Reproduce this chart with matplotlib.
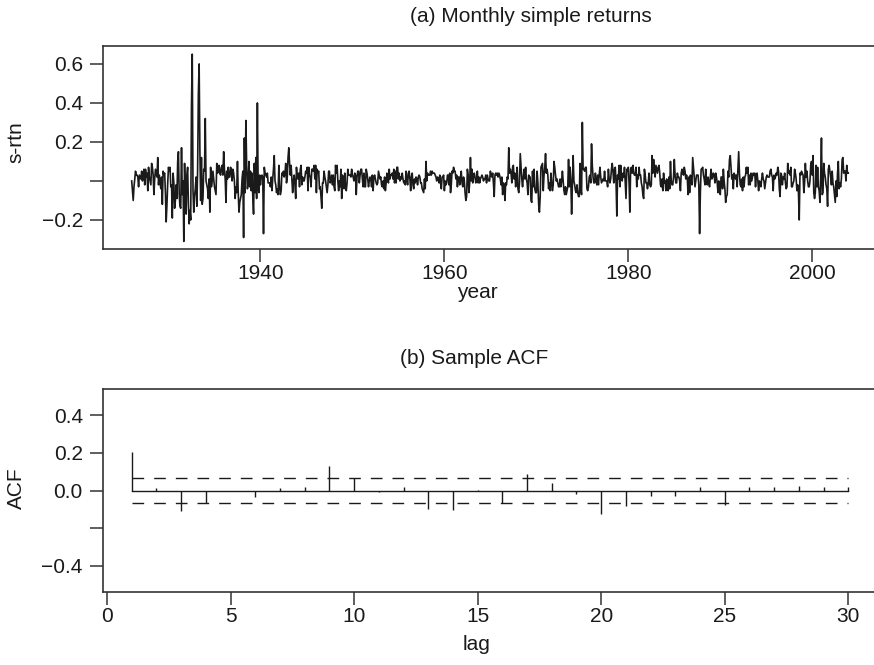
import numpy as np
import matplotlib
matplotlib.use("Agg")
import matplotlib.pyplot as plt

# monthly simple returns, Jan 1926 .. Dec 2003 (one row per year)
rtn = [
    0.00, -0.05, -0.10, -0.03, 0.01, 0.05, 0.03, 0.03, 0.02, -0.03, 0.03, 0.02,   # 1926
    0.01, 0.05, 0.00, 0.02, 0.06, -0.02, 0.06, 0.02, 0.04, -0.05, 0.07, 0.02,     # 1927
    0.00, -0.02, 0.09, 0.07, 0.03, -0.07, 0.01, 0.06, 0.04, 0.02, 0.12, -0.02,    # 1928
    0.03, -0.01, -0.04, 0.02, -0.12, 0.05, 0.03, 0.04, -0.06, -0.21, -0.12, -0.01,  # 1929
    0.07, 0.05, 0.07, -0.03, -0.02, -0.19, 0.04, -0.01, -0.14, -0.10, -0.02, -0.09,  # 1930
    0.10, 0.15, -0.07, -0.13, -0.14, 0.17, -0.07, 0.00, -0.31, 0.09, -0.10, -0.17,  # 1931
    0.03, 0.07, -0.12, -0.22, -0.15, -0.20, 0.38, 0.65, -0.05, -0.16, -0.08, -0.04,  # 1932
    0.02, -0.13, 0.05, 0.45, 0.60, 0.15, -0.10, 0.12, -0.12, -0.09, 0.06, 0.05,   # 1933
    0.32, 0.00, -0.02, -0.04, -0.09, 0.01, -0.16, 0.07, -0.03, 0.00, 0.05, 0.01,  # 1934
    -0.03, -0.05, -0.07, 0.09, 0.04, 0.05, 0.08, 0.04, 0.03, 0.07, 0.08, 0.03,    # 1935
    0.15, 0.06, 0.01, -0.11, 0.05, 0.01, 0.07, 0.02, 0.02, 0.07, 0.06, 0.00,      # 1936
    0.06, 0.04, 0.00, -0.09, -0.03, -0.06, 0.10, -0.06, -0.16, -0.11, -0.09, -0.07,  # 1937
    0.01, 0.05, -0.29, 0.22, -0.06, 0.31, 0.08, -0.04, -0.01, 0.10, -0.03, 0.05,  # 1938
    -0.05, 0.04, -0.08, -0.17, 0.09, -0.06, 0.12, -0.09, 0.40, -0.03, -0.06, 0.03,  # 1939
    -0.02, 0.02, 0.03, 0.02, -0.27, 0.07, 0.04, 0.03, 0.02, 0.04, -0.01, -0.01,   # 1940
    -0.01, -0.03, 0.02, -0.05, 0.01, 0.06, 0.13, 0.00, -0.02, -0.06, -0.04, -0.07,  # 1941
    0.08, -0.03, -0.07, -0.05, 0.04, 0.03, 0.05, 0.02, 0.04, 0.09, -0.01, 0.02,   # 1942
    0.12, 0.17, 0.09, 0.03, 0.08, 0.01, -0.06, 0.00, 0.03, -0.02, -0.09, 0.07,    # 1943
    0.02, 0.01, 0.04, -0.03, 0.06, 0.08, -0.02, 0.02, 0.00, 0.00, 0.02, 0.05,     # 1944
    0.04, 0.07, -0.05, 0.07, 0.03, 0.02, -0.03, 0.06, 0.06, 0.05, 0.08, 0.01,     # 1945
    0.08, -0.06, 0.06, 0.04, 0.05, -0.04, -0.03, -0.08, -0.14, -0.01, -0.01, 0.05,  # 1946
    0.02, 0.00, -0.03, -0.06, -0.02, 0.05, 0.05, -0.01, 0.00, 0.03, -0.02, 0.03,  # 1947
    -0.03, -0.05, 0.08, 0.04, 0.08, 0.00, -0.05, 0.00, -0.03, 0.06, -0.09, 0.03,  # 1948
    0.01, -0.04, 0.04, -0.03, -0.05, -0.01, 0.06, 0.03, 0.03, 0.03, 0.02, 0.06,   # 1949
    0.03, 0.02, 0.00, 0.04, 0.03, -0.07, 0.02, 0.05, 0.05, -0.01, 0.03, 0.06,     # 1950
    0.06, 0.01, -0.03, 0.04, -0.03, -0.03, 0.06, 0.04, 0.01, -0.03, 0.00, 0.02,   # 1951
    0.01, -0.03, 0.03, -0.05, 0.02, 0.03, 0.01, -0.01, -0.02, -0.01, 0.05, 0.03,  # 1952
    0.01, 0.02, -0.02, -0.03, 0.00, -0.04, 0.02, -0.05, -0.01, 0.04, 0.01, -0.01,  # 1953
    0.06, 0.01, 0.03, 0.03, 0.04, 0.01, 0.06, -0.01, 0.05, -0.01, 0.07, 0.07,     # 1954
    0.01, 0.04, 0.00, 0.02, 0.01, 0.04, 0.01, -0.01, 0.00, -0.02, 0.05, 0.01,     # 1955
    -0.02, 0.04, 0.05, 0.01, -0.05, 0.02, 0.04, -0.02, -0.04, 0.01, -0.01, 0.02,  # 1956
    0.01, -0.02, 0.02, 0.03, 0.02, -0.01, -0.01, -0.04, -0.05, -0.06, 0.01, -0.04,  # 1957
    0.10, 0.00, 0.04, 0.03, 0.03, 0.03, 0.05, 0.03, 0.05, 0.04, 0.04, 0.04,       # 1958
    0.03, 0.02, 0.00, 0.02, 0.01, -0.01, 0.03, -0.01, -0.04, 0.02, 0.02, 0.03,    # 1959
    -0.05, 0.00, -0.02, -0.01, 0.03, 0.03, -0.02, 0.04, -0.06, -0.02, 0.05, 0.04,  # 1960
    0.07, 0.05, 0.05, 0.01, 0.03, -0.03, 0.02, 0.02, -0.02, 0.02, 0.05, -0.01,    # 1961
    -0.03, 0.02, 0.00, -0.06, -0.10, -0.08, 0.06, 0.03, -0.06, -0.01, 0.12, 0.00,  # 1962
    0.06, -0.01, 0.02, 0.04, 0.02, -0.01, 0.00, 0.05, -0.01, 0.02, -0.01, 0.01,   # 1963
    0.02, 0.03, 0.02, 0.00, 0.01, 0.01, 0.03, -0.01, 0.03, 0.01, 0.00, 0.00,      # 1964
    0.05, 0.03, 0.02, 0.04, -0.01, -0.08, 0.03, 0.04, 0.03, 0.04, 0.02, 0.04,     # 1965
    0.03, 0.01, -0.02, 0.02, -0.07, -0.01, -0.02, -0.10, -0.01, -0.02, 0.02, 0.01,  # 1966
    0.17, 0.04, 0.06, 0.04, -0.01, 0.07, 0.08, 0.01, 0.04, -0.03, 0.01, 0.07,     # 1967
    -0.04, -0.06, -0.01, 0.14, 0.07, 0.01, -0.03, 0.02, 0.06, 0.01, 0.07, 0.01,   # 1968
    -0.01, -0.07, 0.03, 0.02, 0.02, -0.10, -0.11, 0.05, -0.03, 0.06, -0.04, -0.06,  # 1969
    -0.06, 0.05, -0.01, -0.12, -0.16, -0.08, 0.07, 0.08, 0.09, -0.05, 0.03, 0.07,  # 1970
    0.14, 0.04, 0.06, 0.03, -0.04, -0.01, -0.05, 0.04, -0.01, -0.05, -0.02, 0.10,  # 1971
    0.07, 0.03, 0.00, 0.01, -0.01, -0.03, -0.03, 0.01, -0.03, 0.00, 0.05, 0.00,   # 1972
    -0.05, -0.07, -0.03, -0.07, -0.05, -0.03, 0.11, -0.03, 0.07, 0.00, -0.17, -0.01,  # 1973
    0.13, 0.00, -0.02, -0.05, -0.06, -0.02, -0.06, -0.08, -0.08, 0.09, -0.04, -0.07,  # 1974
    0.30, 0.06, 0.06, 0.05, 0.07, 0.07, -0.04, -0.05, -0.03, 0.02, 0.03, -0.01,   # 1975
    0.19, 0.08, 0.02, -0.01, -0.01, 0.04, 0.00, -0.02, 0.03, -0.02, 0.03, 0.07,   # 1976
    0.02, -0.01, 0.00, 0.01, 0.00, 0.05, 0.00, 0.00, 0.00, -0.03, 0.06, 0.01,     # 1977
    -0.01, 0.01, 0.06, 0.09, 0.05, -0.01, 0.06, 0.07, -0.01, -0.18, 0.03, 0.01,   # 1978
    0.08, -0.03, 0.08, 0.02, 0.00, 0.04, 0.02, 0.07, -0.01, -0.09, 0.06, 0.05,    # 1979
    0.07, -0.01, -0.16, 0.06, 0.07, 0.04, 0.08, 0.04, 0.03, 0.03, 0.07, -0.03,    # 1980
    0.03, 0.01, 0.07, 0.03, 0.03, -0.01, -0.03, -0.07, -0.09, 0.06, 0.03, -0.01,  # 1981
    -0.01, -0.04, -0.01, 0.04, -0.02, -0.03, -0.02, 0.13, 0.04, 0.11, 0.06, 0.02,  # 1982
    0.08, 0.06, 0.04, 0.07, 0.08, 0.04, -0.02, -0.03, 0.01, -0.05, 0.04, -0.01,   # 1983
    0.00, -0.05, 0.01, -0.01, -0.05, 0.02, -0.04, 0.10, 0.00, -0.02, -0.02, 0.02,  # 1984
    0.11, 0.03, -0.01, -0.01, 0.04, 0.02, 0.02, 0.00, -0.05, 0.04, 0.06, 0.04,    # 1985
    0.03, 0.07, 0.05, 0.01, 0.03, 0.01, -0.07, 0.02, -0.06, 0.03, 0.00, -0.02,    # 1986
    0.12, 0.07, 0.02, -0.03, 0.00, 0.03, 0.03, 0.03, -0.02, -0.27, -0.06, 0.06,   # 1987
    0.06, 0.07, 0.03, 0.01, -0.02, 0.06, -0.01, -0.02, 0.02, -0.01, -0.03, 0.02,  # 1988
    0.06, 0.01, 0.02, 0.04, 0.03, -0.01, 0.04, 0.02, -0.01, -0.06, 0.00, -0.01,   # 1989
    -0.07, 0.02, 0.02, -0.04, 0.06, 0.00, -0.04, -0.11, -0.08, -0.07, 0.05, 0.02,  # 1990
    0.11, 0.13, 0.07, 0.01, 0.03, -0.04, 0.04, 0.03, 0.01, 0.03, -0.03, 0.06,     # 1991
    0.15, 0.04, -0.02, -0.03, 0.01, -0.05, 0.02, -0.03, 0.02, 0.03, 0.07, 0.04,   # 1992
    0.07, -0.02, 0.03, -0.02, 0.04, 0.00, 0.02, 0.04, 0.03, 0.04, -0.03, 0.03,    # 1993
    0.04, 0.00, -0.05, 0.00, -0.01, -0.03, 0.01, 0.04, 0.01, 0.00, -0.04, -0.01,  # 1994
    0.02, 0.03, 0.02, 0.02, 0.02, 0.05, 0.06, 0.03, 0.02, -0.05, 0.03, 0.01,      # 1995
    0.02, 0.04, 0.03, 0.07, 0.05, -0.04, -0.08, 0.04, 0.03, -0.02, 0.02, 0.01,    # 1996
    0.04, -0.01, -0.04, -0.03, 0.09, 0.04, 0.05, 0.03, 0.07, -0.03, -0.03, -0.01,  # 1997
    0.00, 0.06, 0.04, 0.01, -0.05, -0.02, -0.06, -0.20, 0.04, 0.03, 0.05, 0.04,   # 1998
    0.03, -0.06, -0.01, 0.09, 0.02, 0.05, 0.00, -0.03, -0.03, 0.00, 0.08, 0.10,   # 1999
    0.03, 0.13, -0.06, -0.09, -0.06, 0.08, -0.03, 0.07, -0.03, -0.05, -0.11, 0.02,  # 2000
    0.22, -0.07, -0.06, 0.09, 0.04, 0.02, -0.02, -0.04, -0.13, 0.06, 0.08, 0.05,  # 2001
    0.02, -0.02, 0.05, -0.01, -0.03, -0.07, -0.11, 0.00, -0.08, 0.04, 0.10, -0.04,  # 2002
    -0.01, -0.03, 0.01, 0.11, 0.12, 0.04, 0.05, 0.05, 0.00, 0.08, 0.04, 0.04,     # 2003
]
start_year = 1926

# sample ACF, lags 1..30
lags = list(range(1, 31))
acf = [0.205, 0.012, -0.109, -0.067, -0.003, -0.037, 0.012, 0.018, 0.128, 0.067,
       -0.008, 0.018, -0.097, -0.105, 0.003, -0.067, 0.088, 0.040, -0.018, -0.123,
       -0.084, -0.030, -0.030, 0.021, -0.075, 0.021, 0.021, 0.026, 0.021, 0.021]

year_ticks = [1940, 1960, 1980, 2000]
rtn_ticks = [-0.2, 0.0, 0.2, 0.4, 0.6]
rtn_ticklabels = ["\u22120.2", "", "0.2", "0.4", "0.6"]
acf_ticks = [-0.4, -0.2, 0.0, 0.2, 0.4]
acf_ticklabels = ["\u22120.4", "", "0.0", "0.2", "0.4"]
lag_ticks = [0, 5, 10, 15, 20, 25, 30]

plt.rcParams["font.family"] = ["Liberation Sans", "DejaVu Sans"]
plt.rcParams["lines.scale_dashes"] = False

W, H = 874, 665
fig = plt.figure(figsize=(W / 100, H / 100), dpi=100)
ink = "#1a1a1a"
fs = 15


def px_axes(left, top, right, bottom):
    return fig.add_axes([left / W, 1 - bottom / H, (right - left) / W, (bottom - top) / H])


def px_text(x, y, s, **kw):
    fig.text(x / W, 1 - y / H, s, ha="center", va="center", fontsize=fs, color=ink, **kw)


def style(ax):
    ax.spines["right"].set_visible(False)
    for side in ["left", "top", "bottom"]:
        ax.spines[side].set_color("#333333")
        ax.spines[side].set_linewidth(1.2)
    ax.tick_params(direction="out", length=9.5, width=1.1, color="#333333",
                   labelsize=fs, labelcolor=ink)
    ax.tick_params(axis="x", pad=1)
    ax.tick_params(axis="y", pad=5)


# (a) time plot
ax1 = px_axes(103, 46, 877, 249)
t = start_year + np.arange(len(rtn)) / 12.0
ax1.plot(t, rtn, color=ink, lw=1.2)
ax1.set_xlim(1922.88, 2007.04)
ax1.set_ylim(-0.349, 0.692)
ax1.set_xticks(year_ticks)
ax1.set_yticks(rtn_ticks)
ax1.set_yticklabels(rtn_ticklabels)
style(ax1)
px_text(531, 17, "(a) Monthly simple returns")
px_text(477, 292, "year")
px_text(16, 142, "s-rtn", rotation=90)

# (b) sample ACF
ax2 = px_axes(103, 389, 877, 592)
conf = 1.96 / np.sqrt(len(rtn))
ax2.vlines(lags, 0, acf, color=ink, lw=1.0)
ax2.plot([lags[0], lags[-1]], [0, 0], color=ink, lw=1.0)
ax2.plot([lags[0], lags[-1]], [conf, conf], color=ink, lw=1.0, dashes=(8.4, 7.2))
ax2.plot([lags[0], lags[-1]], [-conf, -conf], color=ink, lw=1.0, dashes=(8.4, 7.2))
ax2.set_xlim(-0.16, 31.16)
ax2.set_ylim(-0.54, 0.54)
ax2.set_xticks(lag_ticks)
ax2.set_yticks(acf_ticks)
ax2.set_yticklabels(acf_ticklabels)
style(ax2)
px_text(474, 358, "(b) Sample ACF")
px_text(477, 645, "lag")
px_text(16, 488, "ACF", rotation=90)

fig.savefig("out.png", dpi=100)
